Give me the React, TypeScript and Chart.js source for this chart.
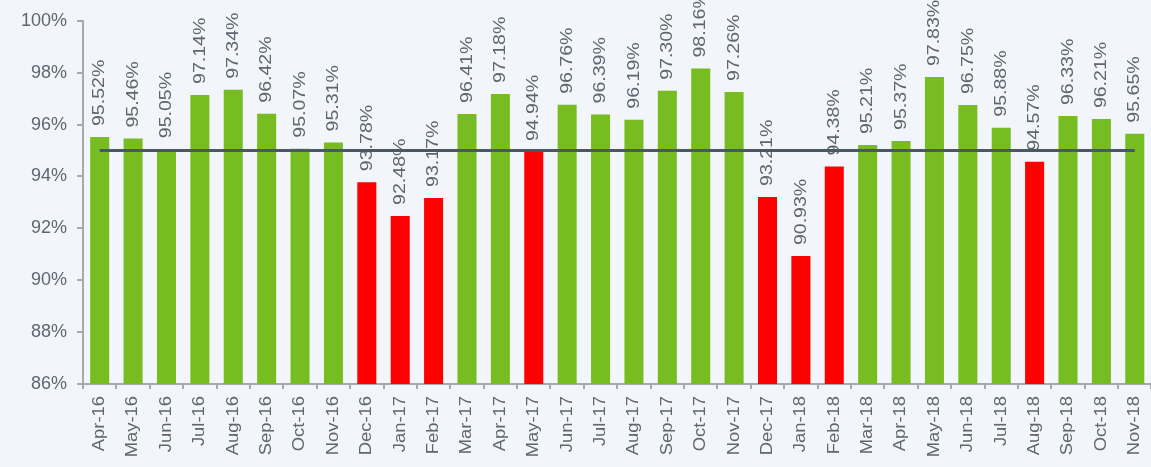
import React, { useEffect, useRef } from "react";
import { Chart, registerables } from "chart.js";

Chart.register(...registerables);

const months = [
  "Apr-16", "May-16", "Jun-16", "Jul-16", "Aug-16", "Sep-16", "Oct-16", "Nov-16",
  "Dec-16", "Jan-17", "Feb-17", "Mar-17", "Apr-17", "May-17", "Jun-17", "Jul-17",
  "Aug-17", "Sep-17", "Oct-17", "Nov-17", "Dec-17", "Jan-18", "Feb-18", "Mar-18",
  "Apr-18", "May-18", "Jun-18", "Jul-18", "Aug-18", "Sep-18", "Oct-18", "Nov-18",
];

const values = [
  95.52, 95.46, 95.05, 97.14, 97.34, 96.42, 95.07, 95.31,
  93.78, 92.48, 93.17, 96.41, 97.18, 94.94, 96.76, 96.39,
  96.19, 97.30, 98.16, 97.26, 93.21, 90.93, 94.38, 95.21,
  95.37, 97.83, 96.75, 95.88, 94.57, 96.33, 96.21, 95.65,
];

const valueLabels = [
  "95.52%", "95.46%", "95.05%", "97.14%", "97.34%", "96.42%", "95.07%", "95.31%",
  "93.78%", "92.48%", "93.17%", "96.41%", "97.18%", "94.94%", "96.76%", "96.39%",
  "96.19%", "97.30%", "98.16%", "97.26%", "93.21%", "90.93%", "94.38%", "95.21%",
  "95.37%", "97.83%", "96.75%", "95.88%", "94.57%", "96.33%", "96.21%", "95.65%",
];

const target = 95;
const targetLine = months.map(() => target);

const GREEN = "#77bd22";
const RED = "#ff0000";
const TEXT = "#5e6670";
const BG = "#f2f5f9";
const FONT = "'Liberation Sans', Arial, sans-serif";

const valueLabelPlugin = {
  id: "valueLabels",
  afterDatasetDraw(chart: any, args: any) {
    if (args.index !== 0) return;
    const ctx = chart.ctx;
    const meta = chart.getDatasetMeta(0);
    ctx.save();
    ctx.fillStyle = TEXT;
    ctx.font = `17px ${FONT}`;
    ctx.textAlign = "left";
    ctx.textBaseline = "middle";
    meta.data.forEach((el: any, i: number) => {
      ctx.save();
      ctx.translate(el.x, el.y - 11);
      ctx.rotate(-Math.PI / 2);
      ctx.scale(1.15, 1);
      ctx.fillText(valueLabels[i], 0, 0);
      ctx.restore();
    });
    ctx.restore();
  },
};

const xLabelPlugin = {
  id: "xLabels",
  afterDraw(chart: any) {
    const ctx = chart.ctx;
    const xs = chart.scales.x;
    const bottom = chart.chartArea.bottom;
    ctx.save();
    ctx.fillStyle = TEXT;
    ctx.font = `16px ${FONT}`;
    ctx.textAlign = "right";
    ctx.textBaseline = "middle";
    months.forEach((m, i) => {
      const x = xs.getPixelForValue(i);
      ctx.save();
      ctx.translate(x, bottom + 12);
      ctx.rotate(-Math.PI / 2);
      ctx.scale(1.15, 1);
      ctx.fillText(m, 0, 0);
      ctx.restore();
    });
    ctx.restore();
  },
};

export default function App() {
  const ref = useRef<HTMLCanvasElement | null>(null);

  useEffect(() => {
    if (!ref.current) return;
    const chart = new Chart(ref.current, {
      type: "bar",
      data: {
        labels: months,
        datasets: [
          {
            type: "bar",
            data: values,
            backgroundColor: values.map((v) => (v < target ? RED : GREEN)),
            barPercentage: 0.57,
            categoryPercentage: 1,
            order: 1,
          },
          {
            type: "line",
            data: targetLine,
            borderColor: "#4b5763",
            borderWidth: 3,
            pointRadius: 0,
            fill: false,
            order: 0,
          } as any,
        ],
      },
      options: {
        animation: false,
        responsive: true,
        maintainAspectRatio: false,
        layout: { padding: { top: 19, right: 1, left: 0, bottom: 0 } },
        plugins: {
          legend: { display: false },
          tooltip: { enabled: false },
        },
        scales: {
          x: {
            offset: true,
            grid: {
              offset: true,
              drawOnChartArea: false,
              drawTicks: true,
              tickLength: 5,
              color: "#a6aaae",
              lineWidth: 2,
            },
            border: { display: true, color: "#a6aaae", width: 2 },
            ticks: {
              minRotation: 90,
              maxRotation: 90,
              autoSkip: false,
              padding: 6,
              color: "rgba(0,0,0,0)",
              font: { family: FONT, size: 16 },
            },
            afterFit: (scale: any) => {
              scale.height = 83;
            },
          },
          y: {
            min: 86,
            max: 100,
            ticks: {
              stepSize: 2,
              padding: 10,
              color: TEXT,
              font: { family: FONT, size: 18 },
              callback: (v: any) => `${v}%`,
            },
            grid: {
              drawOnChartArea: false,
              drawTicks: true,
              tickLength: 6,
              color: "#a6aaae",
              lineWidth: 2,
            },
            border: { display: true, color: "#a6aaae", width: 2 },
            afterFit: (scale: any) => {
              scale.width = 83;
            },
          },
        },
      },
      plugins: [valueLabelPlugin, xLabelPlugin],
    });
    return () => chart.destroy();
  }, []);

  return (
    <div
      style={{
        position: "fixed",
        left: 0,
        top: 0,
        width: 1151,
        height: 467,
        overflow: "hidden",
        background: BG,
      }}
    >
      <div style={{ position: "absolute", left: 0, top: 0, width: 1160, height: 467 }}>
        <canvas ref={ref} />
      </div>
    </div>
  );
}
